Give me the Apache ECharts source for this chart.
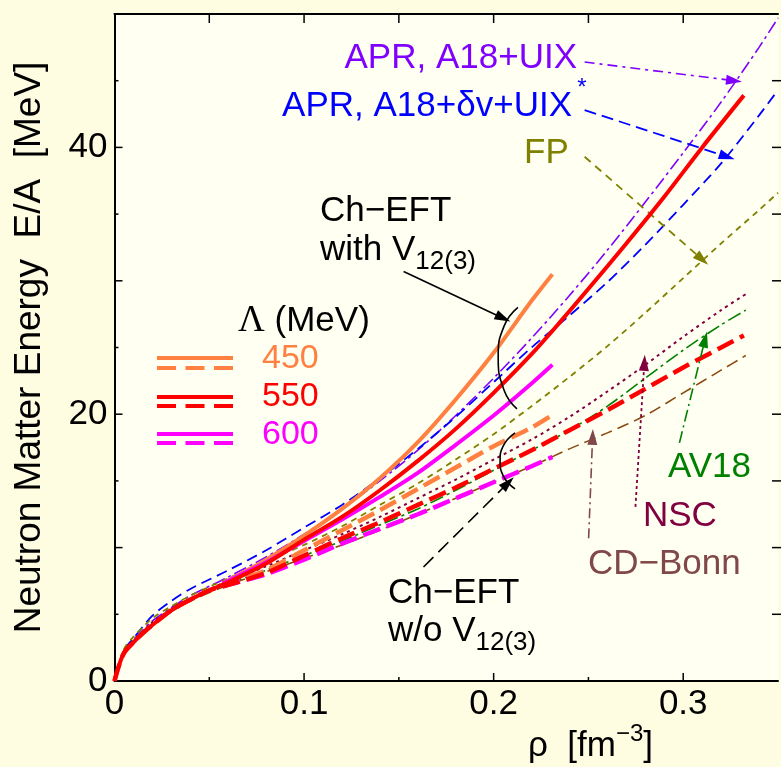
<!DOCTYPE html>
<html><head><meta charset="utf-8">
<script src="https://cdn.jsdelivr.net/npm/echarts@6/dist/echarts.min.js"></script>
<style>html,body{margin:0;padding:0;background:#fffde1;}#c{width:781px;height:767px;}</style>
</head><body><div id="c"></div>
<script>
// ---- data (ρ in fm^-3, E/A in MeV) ----
const xTicks = [0, 0.1, 0.2, 0.3];
const yTicks = [0, 20, 40];
const xMajorTicks = [0.1, 0.2, 0.3];
const xMinorTicks = [0.05, 0.15, 0.25];
const xTopTicks = [0.05, 0.1, 0.15, 0.2, 0.25, 0.3];
const yMajorTicks = [10, 20, 30, 40];
const yMinorTicks = [5, 15, 25, 35, 45];
const yRightTicks = [5, 10, 15, 20, 25, 30, 35, 40, 45];

const rhoEft550 = [0, 0.002, 0.005, 0.01, 0.015, 0.02, 0.03, 0.04, 0.05, 0.06, 0.08, 0.1, 0.12, 0.14, 0.16, 0.18, 0.2, 0.22, 0.235, 0.25, 0.27, 0.29, 0.31, 0.332];
const e550With = [0, 1.0, 2.1, 2.9, 3.6, 4.2, 5.3, 6.1, 6.8, 7.4, 8.8, 10.6, 12.3, 14.3, 16.5, 18.9, 21.6, 24.5, 26.9, 29.4, 32.8, 36.3, 40.0, 43.9];
const rhoEft550b = [0, 0.002, 0.005, 0.01, 0.015, 0.02, 0.03, 0.04, 0.05, 0.06, 0.08, 0.1, 0.12, 0.14, 0.16, 0.18, 0.2, 0.22, 0.24, 0.26, 0.28, 0.3, 0.32, 0.332];
const e550Without = [0, 1.0, 2.1, 2.9, 3.6, 4.2, 5.3, 6.1, 6.8, 7.2, 8.1, 9.4, 10.7, 11.9, 13.2, 14.5, 15.9, 17.3, 18.8, 20.3, 21.9, 23.5, 25.0, 25.9];
const rhoEftShort = [0.057, 0.07, 0.08, 0.1, 0.12, 0.14, 0.16, 0.18, 0.2, 0.22, 0.231];
const e450With = [7.3, 8.3, 9.1, 10.9, 12.9, 15.2, 17.9, 21.1, 24.6, 28.5, 30.5];
const e600With = [7.3, 8.2, 8.9, 10.5, 12.1, 13.8, 15.6, 17.7, 19.9, 22.3, 23.7];
const e450Without = [7.2, 7.8, 8.3, 9.8, 11.3, 12.8, 14.4, 16.0, 17.6, 19.0, 19.95];
const e600Without = [7.1, 7.6, 8.0, 9.1, 10.3, 11.4, 12.5, 13.7, 14.9, 16.1, 16.8];

const rhoRef = [0, 0.005, 0.01, 0.02, 0.03, 0.04, 0.06, 0.08, 0.1, 0.12, 0.14, 0.16, 0.18, 0.2, 0.22, 0.24, 0.26, 0.28, 0.3, 0.32, 0.34, 0.35];
const eAPR = [0, 2.3, 3.1, 4.5, 5.5, 6.4, 7.8, 9.3, 11.0, 12.9, 15.0, 17.3, 19.9, 22.7, 25.7, 28.9, 32.3, 35.9, 39.6, 43.4, 47.5, 49.7];
const eAPRdv = [0, 2.3, 3.2, 4.9, 6.0, 6.9, 8.3, 9.8, 11.5, 13.2, 15.2, 17.4, 19.8, 22.4, 25.0, 27.4, 29.9, 32.7, 35.7, 38.8, 42.4, 44.3];
const eFP = [0, 2.4, 3.3, 4.7, 5.6, 6.4, 7.7, 9.0, 10.2, 11.6, 13.2, 14.8, 16.6, 18.5, 20.6, 22.8, 25.1, 27.6, 30.2, 32.8, 35.3, 36.6];

const rhoPot = [0, 0.005, 0.01, 0.02, 0.03, 0.04, 0.06, 0.08, 0.1, 0.12, 0.14, 0.16, 0.18, 0.2, 0.22, 0.24, 0.26, 0.28, 0.3, 0.32, 0.333];
const eNSC = [0, 2.2, 3.0, 4.4, 5.4, 6.2, 7.5, 8.6, 9.8, 11.0, 12.3, 13.7, 15.1, 16.6, 18.1, 19.8, 21.7, 23.7, 25.8, 27.8, 29.0];
const eAV18 = [0, 2.2, 3.0, 4.3, 5.3, 6.1, 7.3, 8.3, 9.4, 10.5, 11.7, 12.9, 14.3, 15.8, 17.3, 18.8, 20.6, 22.7, 24.8, 26.7, 27.8];
const eCDBonn = [0, 2.2, 3.0, 4.3, 5.2, 6.0, 7.2, 8.2, 9.2, 10.2, 11.3, 12.5, 13.7, 14.9, 16.1, 17.4, 18.6, 19.9, 21.6, 23.3, 24.4];

// annotation arrows (data coordinates: [ρ, E])
const arrowAPR = [[0.248, 46.4], [0.3268, 45.0]];
const arrowAPRdv = [[0.248, 42.8], [0.3231, 39.3]];
const arrowFP = [[0.248, 39.3], [0.310, 31.6]];
const arrowWith = [[0.1525, 30.7], [0.205, 27.2]];
const arrowWithout = [[0.163, 8.55], [0.2076, 14.85]];
const arrowCDBonn = [[0.2501, 10.7], [0.2522, 18.3]];
const arrowNSC = [[0.2748, 13.05], [0.2795, 23.85]];
const arrowAV18 = [[0.298, 17.85], [0.3115, 25.6]];
const bracketUpper = [[0.2128, 28.0], [0.2055, 26.6], [0.2024, 24.3], [0.2055, 21.8], [0.2123, 20.4]];
const bracketLower = [[0.2113, 18.6], [0.2050, 17.6], [0.2034, 16.5], [0.2050, 15.4], [0.2113, 14.4]];

const pts = (xs, ys) => xs.map((x, i) => [x, ys[i]]);
const FONT = '"Liberation Sans", Arial, sans-serif';

function lineSeries(name, xs, ys, color, width, type, z) {
  return {name, type: 'line', data: pts(xs, ys), showSymbol: false, symbol: 'none', smooth: 0.3,
    lineStyle: {color, width, type}, z: z || 2, silent: true, clip: true};
}
function arrow(p, color, type, width, curv) {
  return [{coord: p[0], symbol: 'none', lineStyle: {color, type, width, curveness: curv || 0}},
          {coord: p[1], symbol: 'triangle', symbolSize: [10, 16]}];
}

const chart = echarts.init(document.getElementById('c'), null, {renderer: 'canvas'});
const axisLine = {lineStyle: {color: '#000', width: 2}};
const option = {
  animation: false,
  backgroundColor: '#fffde1',
  grid: {left: 114.5, right: -2, top: 14, bottom: 86, show: true, backgroundColor: '#fffff2', borderWidth: 0},
  xAxis: [{
    type: 'value', min: 0, max: 0.35, interval: 0.1, position: 'bottom',
    axisLine, splitLine: {show: false}, axisTick: {show: false},
    axisLabel: {fontSize: 35, fontFamily: FONT, color: '#000', margin: 6,
      formatter: v => xTicks.some(t => Math.abs(t - v) < 1e-9) ? String(+v.toFixed(1)) : ''}
  }, {
    type: 'value', min: 0, max: 0.35, position: 'top',
    axisLine, splitLine: {show: false}, axisLabel: {show: false}, axisTick: {show: false}
  }],
  yAxis: [{
    type: 'value', min: 0, max: 50, interval: 10, position: 'left',
    axisLine, splitLine: {show: false}, axisTick: {show: false},
    axisLabel: {fontSize: 35, fontFamily: FONT, color: '#000', margin: 7,
      formatter: v => yTicks.includes(v) ? String(v) : ''},
    name: 'Neutron Matter Energy  E/A  [MeV]', nameLocation: 'middle', nameGap: 66,
    nameTextStyle: {fontSize: 37, fontFamily: FONT, color: '#000'}
  }],
  series: [
    lineSeries('APR, A18+UIX', rhoRef, eAPR, '#8000ff', 1.6, [13, 4, 3, 4]),
    lineSeries('APR, A18+δv+UIX*', rhoRef, eAPRdv, '#0000ff', 1.8, [11, 6]),
    lineSeries('FP', rhoRef, eFP, '#808000', 1.8, [6, 5]),
    lineSeries('NSC', rhoPot, eNSC, '#800040', 2, [3, 4]),
    lineSeries('AV18', rhoPot, eAV18, '#008000', 1.6, [14, 4, 3, 4]),
    lineSeries('CD-Bonn', rhoPot, eCDBonn, '#8a4a10', 1.6, [12, 6]),
    lineSeries('450 w/o', rhoEftShort, e450Without, '#ff8040', 4.5, [18, 7], 3),
    lineSeries('600 w/o', rhoEftShort, e600Without, '#ff00ff', 4.5, [18, 7], 3),
    lineSeries('550 w/o', rhoEft550b, e550Without, '#ff0000', 4.5, [18, 7], 3),
    lineSeries('450 with', rhoEftShort, e450With, '#ff8040', 4, 'solid', 4),
    lineSeries('600 with', rhoEftShort, e600With, '#ff00ff', 4, 'solid', 4),
    lineSeries('550 with', rhoEft550, e550With, '#ff0000', 4, 'solid', 5),
    {type: 'line', data: bracketUpper, smooth: true, showSymbol: false, symbol: 'none', lineStyle: {color: '#000', width: 1.6}, z: 6, silent: true},
    {type: 'line', data: bracketLower, smooth: true, showSymbol: false, symbol: 'none', lineStyle: {color: '#000', width: 1.6}, z: 6, silent: true},
    {type: 'line', data: [], z: 7, silent: true,
      markLine: {silent: true, animation: false, label: {show: false}, symbol: ['none', 'triangle'],
        data: [
          arrow(arrowAPR, '#8000ff', [10, 5, 3, 5], 1.6, 0.08),
          arrow(arrowAPRdv, '#0000ff', [12, 6], 1.8, 0.08),
          arrow(arrowFP, '#808000', [8, 6], 1.8, 0.03),
          arrow(arrowWith, '#000000', 'solid', 1.6, 0),
          arrow(arrowWithout, '#000000', [14, 7], 1.6, 0),
          arrow(arrowCDBonn, '#804848', [10, 4, 2, 4], 1.6, 0),
          arrow(arrowNSC, '#800040', [3, 3], 1.8, 0),
          arrow(arrowAV18, '#008000', [12, 4, 2, 4], 1.6, 0)
        ]}}
  ]
};
chart.setOption(option);

// inward-pointing ticks, positioned through the axes' own scales
const gridRect = chart.getModel().getComponent('grid', 0).coordinateSystem.getRect();
const gx0 = gridRect.x, gx1 = gridRect.x + gridRect.width, gy0 = gridRect.y, gy1 = gridRect.y + gridRect.height;
const px = v => chart.convertToPixel({xAxisIndex: 0}, v);
const py = v => chart.convertToPixel({yAxisIndex: 0}, v);
const tick = (x1, y1, x2, y2) => ({type: 'line', silent: true, z: 50,
  shape: {x1, y1, x2, y2}, style: {stroke: '#000', lineWidth: 1.5}});
const tickEls = [];
xMajorTicks.forEach(v => tickEls.push(tick(px(v), gy1, px(v), gy1 - 8)));
xMinorTicks.forEach(v => tickEls.push(tick(px(v), gy1, px(v), gy1 - 4)));
xTopTicks.forEach(v => tickEls.push(tick(px(v), gy0, px(v), gy0 + 9)));
yMajorTicks.forEach(v => tickEls.push(tick(gx0, py(v), gx0 + 8, py(v))));
yMinorTicks.forEach(v => tickEls.push(tick(gx0, py(v), gx0 + 4, py(v))));
yRightTicks.forEach(v => tickEls.push(tick(781, py(v), 772, py(v))));

function txt(text, x, y, color, size, align, rich) {
  return {type: 'text', silent: true, z: 100,
    style: {text, x, y, fill: color, font: `${size}px ${FONT}`, textAlign: align || 'left', textVerticalAlign: 'middle', rich}};
}
const subRich = (color) => ({
  m: {fontSize: 35, fontFamily: FONT, color},
  s: {fontSize: 26, fontFamily: FONT, color, padding: [24, 0, 0, 0]},
  u: {fontSize: 24, fontFamily: FONT, color, padding: [0, 0, 24, 0]},
  L: {fontSize: 37, fontFamily: '"Liberation Serif", serif', color}
});
const leg = (y, color, dash) => ({type: 'line', silent: true, z: 100,
  shape: {x1: 157, y1: y, x2: 233, y2: y}, style: {stroke: color, lineWidth: 4, lineDash: dash}});

chart.setOption({graphic: tickEls.concat([
  txt('APR, A18+UIX', 577, 58, '#8000ff', 35, 'right'),
  txt('APR, A18+δv+UIX', 572, 106, '#0000ff', 35, 'right'),
  txt('*', 582, 88, '#0000ff', 24, 'center'),
  txt('FP', 524, 153, '#808000', 35, 'left'),
  txt('Ch−EFT', 320, 211, '#000', 35, 'left'),
  txt('{m|with V}{s|12(3)}', 320, 250, '#000', 35, 'left', subRich('#000')),
  txt('{L|Λ}{m| (MeV)}', 238, 321, '#000', 35, 'left', subRich('#000')),
  leg(358, '#ff8040', null), leg(368, '#ff8040', [19, 9.5]),
  leg(397, '#ff0000', null), leg(406, '#ff0000', [19, 9.5]),
  leg(434, '#ff00ff', null), leg(443, '#ff00ff', [19, 9.5]),
  txt('450', 262, 359, '#ff8040', 34, 'left'),
  txt('550', 262, 397, '#ff0000', 34, 'left'),
  txt('600', 262, 435, '#ff00ff', 34, 'left'),
  txt('Ch−EFT', 388, 593, '#000', 35, 'left'),
  txt('{m|w/o V}{s|12(3)}', 388, 631, '#000', 35, 'left', subRich('#000')),
  txt('AV18', 668, 467, '#008000', 35, 'left'),
  txt('NSC', 643, 516, '#800040', 35, 'left'),
  txt('CD−Bonn', 588, 564, '#804848', 35, 'left'),
  txt('{m|ρ  [fm}{u|−3}{m|]}', 528, 746, '#000', 35, 'left', subRich('#000'))
])});
</script></body></html>
